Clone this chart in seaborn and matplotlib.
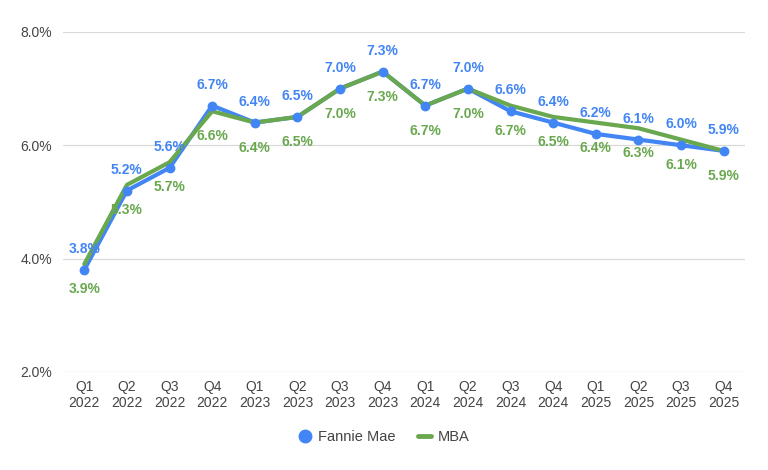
import matplotlib
matplotlib.use('Agg')
import matplotlib.pyplot as plt
import seaborn as sns
import pandas as pd
from matplotlib.lines import Line2D

quarters = ['Q1\n2022', 'Q2\n2022', 'Q3\n2022', 'Q4\n2022',
            'Q1\n2023', 'Q2\n2023', 'Q3\n2023', 'Q4\n2023',
            'Q1\n2024', 'Q2\n2024', 'Q3\n2024', 'Q4\n2024',
            'Q1\n2025', 'Q2\n2025', 'Q3\n2025', 'Q4\n2025']
fannie_mae = [3.8, 5.2, 5.6, 6.7, 6.4, 6.5, 7.0, 7.3, 6.7, 7.0, 6.6, 6.4, 6.2, 6.1, 6.0, 5.9]
mba = [3.9, 5.3, 5.7, 6.6, 6.4, 6.5, 7.0, 7.3, 6.7, 7.0, 6.7, 6.5, 6.4, 6.3, 6.1, 5.9]
y_ticks = [2.0, 4.0, 6.0, 8.0]

blue = '#4285F4'
green = '#6AA84F'

df = pd.DataFrame({'pos': range(len(quarters)), 'Fannie Mae': fannie_mae, 'MBA': mba})

sns.set_style('white')
plt.rcParams['font.family'] = ['Liberation Sans', 'DejaVu Sans']

fig = plt.figure(figsize=(7.68, 4.70), dpi=100)
ax = fig.add_axes([0.082, 0.209, 0.888, 0.723])

# blue line under green, blue dots on top
sns.lineplot(data=df, x='pos', y='Fannie Mae', color=blue, linewidth=3, ax=ax, zorder=2)
sns.lineplot(data=df, x='pos', y='MBA', color=green, linewidth=3, ax=ax, zorder=3)
sns.scatterplot(data=df, x='pos', y='Fannie Mae', color=blue, s=50, linewidth=0, ax=ax, zorder=4)

for i, (f, m) in enumerate(zip(fannie_mae, mba)):
    ax.annotate(f'{f:.1f}%', (i, f), xytext=(0, 10), textcoords='offset points',
                ha='center', va='bottom', color=blue, fontsize=10, fontweight='bold')
    ax.annotate(f'{m:.1f}%', (i, m), xytext=(0, -13), textcoords='offset points',
                ha='center', va='top', color=green, fontsize=10, fontweight='bold')

ax.set_xlim(-0.5, len(quarters) - 0.5)
ax.set_ylim(2.0, 8.0)
ax.set_yticks(y_ticks)
ax.set_yticklabels([f'{t:.1f}%' for t in y_ticks])
ax.set_xticks(range(len(quarters)))
ax.set_xticklabels(quarters)
ax.tick_params(axis='both', length=0, labelsize=10, colors='#444444')
ax.tick_params(axis='y', pad=8)
ax.tick_params(axis='x', pad=6)
ax.grid(axis='y', color='#d9d9d9', linewidth=0.9)
ax.set_axisbelow(True)
for s in ax.spines.values():
    s.set_visible(False)
ax.set_xlabel('')
ax.set_ylabel('')

handles = [Line2D([], [], marker='o', color=blue, linestyle='none', markersize=9),
           Line2D([], [], color=green, linewidth=3.5)]
fig.legend(handles, ['Fannie Mae', 'MBA'], loc='center', bbox_to_anchor=(0.5, 0.07),
           ncol=2, frameon=False, fontsize=10.5, handlelength=0.9, columnspacing=1.5,
           handletextpad=0.5, labelcolor='#444444')

fig.savefig('out.png', dpi=100)
